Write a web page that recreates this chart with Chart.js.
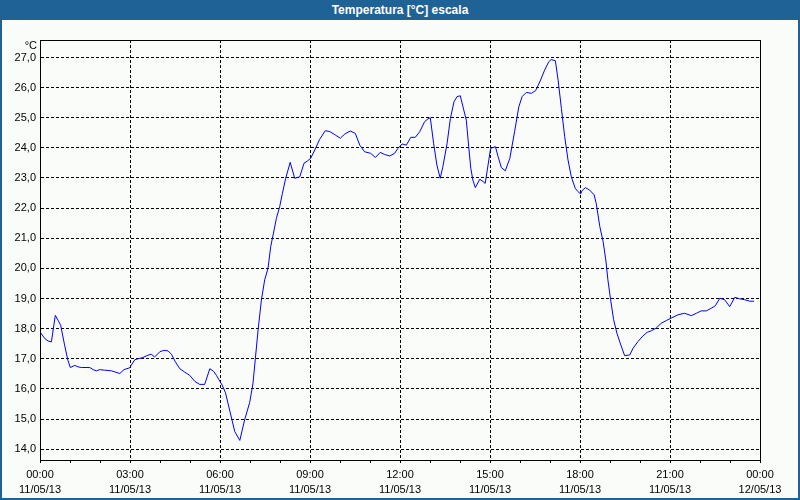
<!DOCTYPE html>
<html><head><meta charset="utf-8">
<script src="https://cdn.jsdelivr.net/npm/chart.js@4"></script>
<style>
html,body{margin:0;padding:0;background:#fafcfa;}
#wrap{position:relative;width:800px;height:500px;overflow:hidden;}
#title{position:absolute;left:0;top:0;width:800px;height:20px;background:#1f6296;color:#fff;font:bold 12px "Liberation Sans",Arial,sans-serif;line-height:20px;text-align:center;}
#frame{position:absolute;left:0;top:0;width:800px;height:500px;box-sizing:border-box;border:2px solid #1f6296;border-top:none;pointer-events:none;}
canvas{position:absolute;left:0;top:0;}
</style></head>
<body><div id="wrap"><canvas id="c" width="800" height="500"></canvas><div id="title">Temperatura [°C] escala</div><div id="frame"></div></div>
<script>
const hours = [0.0,0.16,0.27,0.38,0.51,0.6,0.69,0.82,0.93,1.01,1.16,1.27,1.38,1.66,1.77,1.88,1.99,2.16,2.38,2.66,2.8,2.99,3.04,3.16,3.27,3.43,3.6,3.71,3.82,3.99,4.13,4.27,4.38,4.51,4.66,4.82,4.99,5.16,5.32,5.49,5.66,5.79,5.88,6.07,6.18,6.32,6.49,6.66,6.82,6.99,7.10,7.18,7.27,7.38,7.49,7.6,7.69,7.77,7.88,7.99,8.08,8.19,8.34,8.49,8.66,8.8,8.91,9.02,9.16,9.32,9.51,9.66,9.84,10.01,10.16,10.34,10.51,10.66,10.82,11.02,11.18,11.34,11.49,11.66,11.82,11.93,12.07,12.21,12.36,12.51,12.66,12.82,12.93,13.01,13.12,13.23,13.34,13.43,13.57,13.68,13.8,13.9,14.01,14.10,14.21,14.29,14.36,14.43,14.51,14.66,14.77,14.84,14.91,15.02,15.18,15.27,15.38,15.51,15.66,15.82,15.96,16.07,16.21,16.38,16.52,16.66,16.82,16.96,17.04,17.18,17.27,17.38,17.49,17.6,17.71,17.84,17.93,18.02,18.07,18.18,18.32,18.47,18.54,18.66,18.77,18.86,18.93,19.02,19.12,19.23,19.36,19.49,19.66,19.77,19.93,20.1,20.24,20.38,20.54,20.71,20.88,21.04,21.27,21.49,21.71,21.88,22.04,22.21,22.38,22.51,22.66,22.82,22.99,23.16,23.32,23.49,23.66,23.8];
const temps = [17.89,17.67,17.59,17.56,18.44,18.28,18.11,17.45,16.95,16.71,16.78,16.73,16.71,16.71,16.64,16.60,16.64,16.62,16.60,16.51,16.64,16.70,16.78,16.97,17.0,17.04,17.12,17.15,17.06,17.23,17.28,17.26,17.15,16.90,16.67,16.56,16.45,16.25,16.15,16.15,16.67,16.58,16.45,16.13,15.88,15.30,14.59,14.29,14.97,15.55,16.19,17.02,17.96,18.95,19.62,20.00,20.72,21.11,21.66,22.05,22.49,22.99,23.52,22.99,23.04,23.49,23.56,23.65,23.93,24.28,24.57,24.54,24.43,24.32,24.46,24.56,24.48,24.09,23.87,23.82,23.68,23.85,23.78,23.73,23.82,23.98,24.13,24.09,24.35,24.35,24.54,24.87,24.96,25.0,24.15,23.43,22.99,23.38,24.15,24.98,25.53,25.70,25.73,25.36,24.92,24.04,23.32,22.93,22.68,22.96,22.88,22.82,23.27,23.98,24.04,23.71,23.34,23.24,23.65,24.54,25.36,25.70,25.84,25.81,25.90,26.19,26.58,26.86,26.93,26.89,26.25,25.31,24.37,23.60,23.04,22.66,22.55,22.47,22.58,22.68,22.60,22.44,22.16,21.39,20.89,20.28,19.62,18.96,18.30,17.85,17.46,17.10,17.13,17.35,17.57,17.76,17.88,17.93,18.02,18.18,18.27,18.35,18.46,18.51,18.43,18.51,18.59,18.59,18.68,18.76,19.01,18.96,18.73,19.04,18.99,18.96,18.91,18.91];
const tickHours = [0,3,6,9,12,15,18,21,24];
const tickTimes = ['00:00','03:00','06:00','09:00','12:00','15:00','18:00','21:00','00:00'];
const tickDates = ['11/05/13','11/05/13','11/05/13','11/05/13','11/05/13','11/05/13','11/05/13','11/05/13','12/05/13'];
const unitLabel = '°C';

Chart.defaults.font.family = '"Liberation Sans", Arial, sans-serif';
Chart.defaults.font.size = 11;
Chart.defaults.color = '#000';

const framePlugin = {
  id: 'frame',
  beforeDraw(chart) {
    const c = chart.ctx;
    c.save(); c.fillStyle = '#fafcfa'; c.fillRect(0, 0, chart.width, chart.height); c.restore();
  },
  afterDraw(chart) {
    const c = chart.ctx, a = chart.chartArea;
    c.save();
    c.strokeStyle = '#000'; c.lineWidth = 1; c.setLineDash([]);
    c.strokeRect(Math.round(a.left) + 0.5, Math.round(a.top) + 0.5, Math.round(a.right - a.left), Math.round(a.bottom - a.top));
    c.fillStyle = '#000';
    c.font = '11px "Liberation Sans", Arial, sans-serif';
    c.textAlign = 'right'; c.textBaseline = 'middle';
    c.fillText(unitLabel, a.left - 3, a.top + 6);
    c.restore();
  }
};

new Chart(document.getElementById('c'), {
  type: 'line',
  data: {
    datasets: [{
      data: hours.map((h, i) => ({x: h, y: temps[i]})),
      borderColor: '#0000ff', borderWidth: 1, pointRadius: 0, tension: 0, fill: false
    }]
  },
  options: {
    responsive: false, devicePixelRatio: 1, animation: false,
    layout: {padding: {top: 40, right: 40, left: 0, bottom: 0}},
    plugins: {legend: {display: false}, tooltip: {enabled: false}, title: {display: false}},
    scales: {
      x: {
        type: 'linear', min: 0, max: 24,
        afterFit: s => { s.height = 40; },
        ticks: {
          stepSize: 1, autoSkip: false, maxRotation: 0, minRotation: 0, padding: 4,
          font: {lineHeight: '15px'},
          callback: v => { const i = tickHours.indexOf(v); return i >= 0 ? [tickTimes[i], tickDates[i]] : ''; }
        },
        grid: {
          color: ctx => (ctx.tick && tickHours.includes(ctx.tick.value)) ? '#000' : 'rgba(0,0,0,0)',
          tickColor: '#000', tickLength: 3, tickBorderDash: [], drawTicks: true
        },
        border: {display: true, color: '#000', width: 1, dash: [3, 2]}
      },
      y: {
        min: 13.64, max: 27.58,
        afterFit: s => { s.width = 40; },
        ticks: {
          stepSize: 1, includeBounds: false, padding: 4,
          callback: v => Number.isInteger(v) ? v.toFixed(1).replace('.', ',') : ''
        },
        grid: {color: '#000', drawTicks: false},
        border: {display: true, color: '#000', width: 1, dash: [3, 2]}
      }
    }
  },
  plugins: [framePlugin]
});
</script>
</body></html>
